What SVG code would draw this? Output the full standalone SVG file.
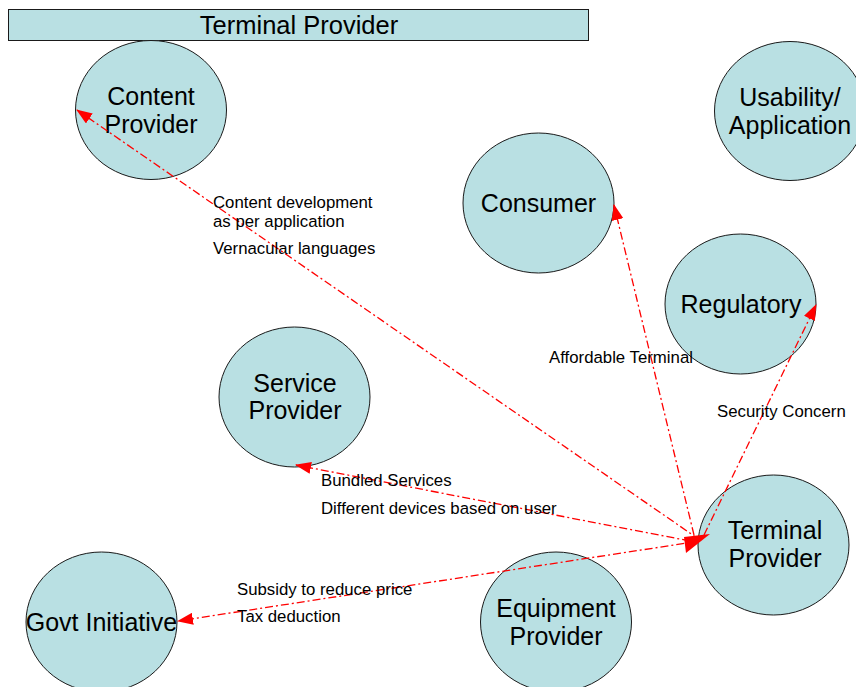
<svg xmlns="http://www.w3.org/2000/svg" width="856" height="687" viewBox="0 0 856 687">
<style>
.node ellipse{fill:#b9e0e3;stroke:#1a1a1a;stroke-width:1}
.nt{font-family:"Liberation Sans",Arial,sans-serif;font-size:25px;fill:#000;text-anchor:middle}
.lb{font-family:"Liberation Sans",Arial,sans-serif;font-size:16.8px;fill:#000}
.edge{fill:none;stroke:#ff0000;stroke-width:1.3;stroke-dasharray:8 3 2 3}
</style>
<defs>
<marker id="ah" markerUnits="userSpaceOnUse" markerWidth="16" markerHeight="12" refX="15" refY="6" orient="auto">
<path d="M0,0 L16,6 L0,12 Z" fill="#ff0000"/>
</marker>
</defs>
<rect width="856" height="687" fill="#ffffff"/>
<g id="title">
<rect x="8.5" y="9.5" width="580" height="31" fill="#b9e0e3" stroke="#1a1a1a" stroke-width="1"/>
<text x="299" y="33.5" class="nt" style="font-size:25.5px">Terminal Provider</text>
</g>
<g id="content-provider" class="node">
<ellipse cx="151" cy="110" rx="75.5" ry="69.5"/>
<text x="151" y="105" class="nt">Content</text>
<text x="151" y="133" class="nt">Provider</text>
</g>
<g id="usability" class="node">
<ellipse cx="790" cy="111" rx="75.5" ry="69.5"/>
<text x="790" y="106" class="nt">Usability/</text>
<text x="790" y="134" class="nt">Application</text>
</g>
<g id="consumer" class="node">
<ellipse cx="538.5" cy="203" rx="75.5" ry="70"/>
<text x="538.5" y="212" class="nt">Consumer</text>
</g>
<g id="regulatory" class="node">
<ellipse cx="740.5" cy="304" rx="75.5" ry="70"/>
<text x="741" y="313" class="nt">Regulatory</text>
</g>
<g id="service-provider" class="node">
<ellipse cx="294.5" cy="397" rx="75.5" ry="70"/>
<text x="295" y="392" class="nt">Service</text>
<text x="295" y="419" class="nt">Provider</text>
</g>
<g id="terminal-provider" class="node">
<ellipse cx="773.5" cy="545" rx="75.5" ry="70"/>
<text x="775" y="539" class="nt">Terminal</text>
<text x="775" y="567" class="nt">Provider</text>
</g>
<g id="govt-initiative" class="node">
<ellipse cx="101.5" cy="622" rx="75.5" ry="70"/>
<text x="101.5" y="631" class="nt">Govt Initiative</text>
</g>
<g id="equipment-provider" class="node">
<ellipse cx="556" cy="622" rx="75.5" ry="70"/>
<text x="556" y="617" class="nt">Equipment</text>
<text x="556" y="645" class="nt">Provider</text>
</g>
<g id="connectors">
<line class="edge" x1="700" y1="540" x2="77" y2="110" marker-end="url(#ah)"/>
<line class="edge" x1="694" y1="535" x2="614" y2="205" marker-end="url(#ah)"/>
<line class="edge" x1="704" y1="535" x2="816" y2="305" marker-end="url(#ah)"/>
<line class="edge" x1="690" y1="541" x2="296" y2="465" marker-end="url(#ah)"/>
<line class="edge" x1="700" y1="541" x2="178" y2="621" marker-end="url(#ah)"/>
<path d="M684,537 L710,534 L686,553 Z" fill="#ff0000"/>
</g>
<g id="labels">
<text x="213" y="208" class="lb">Content development</text>
<text x="213" y="227" class="lb">as per application</text>
<text x="213" y="254" class="lb">Vernacular languages</text>
<text x="549" y="363" class="lb">Affordable Terminal</text>
<text x="717" y="417" class="lb">Security Concern</text>
<text x="321" y="486" class="lb">Bundled Services</text>
<text x="321" y="514" class="lb">Different devices based on user</text>
<text x="237" y="595" class="lb">Subsidy to reduce price</text>
<text x="237" y="622" class="lb">Tax deduction</text>
</g>
</svg>
